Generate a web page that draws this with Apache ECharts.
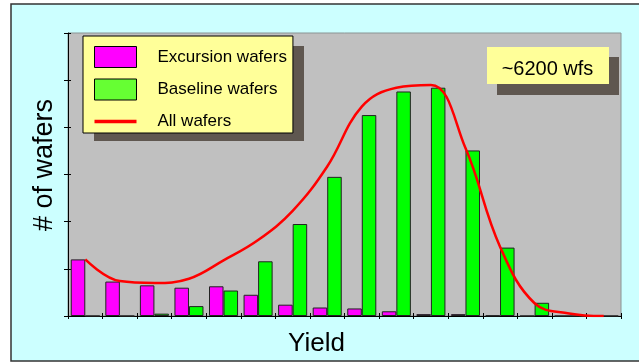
<!DOCTYPE html>
<html>
<head>
<meta charset="utf-8">
<script src="https://cdn.jsdelivr.net/npm/echarts@6/dist/echarts.min.js"></script>
<style>
  html, body { margin: 0; padding: 0; background: #ffffff; }
  #chart { width: 639px; height: 363px; }
</style>
</head>
<body>
<div id="chart"></div>
<script>
// Yield bins (16 equal bins, low yield on the left)
const yieldBins = ['1', '2', '3', '4', '5', '6', '7', '8', '9', '10', '11', '12', '13', '14', '15', '16'];

// Wafer counts per yield bin
const excursionWafers = [240, 146, 130, 120, 126, 90, 48, 36, 32, 20, 8, 8, 2, 0, 0, 0];
const baselineWafers  = [0, 0, 10, 42, 108, 232, 390, 590, 852, 952, 968, 702, 290, 56, 0, 0];
const allWafers       = [240, 148, 140, 158, 236, 322, 446, 634, 888, 968, 980, 712, 294, 54, 11, 0];

// Count axis (ticks only, no labels)
const countMin = 0;
const countMax = 1200;
const countStep = 200;

const totalNote = '~6200 wfs';

const FONT = 'Liberation Sans, Arial, sans-serif';

// Thin horizontal stroke inside a 42x21 box, used as the line's legend key
const lineKey = 'path://M0,0 M42,21 M0,8.8 L42,8.8 L42,12.2 L0,12.2 Z';

const chart = echarts.init(document.getElementById('chart'));

const option = {
  animation: false,
  grid: {
    left: 68, right: 18, top: 33, bottom: 47,
    show: true,
    backgroundColor: '#c0c0c0',
    borderColor: '#8a9494',
    borderWidth: 1
  },
  legend: {
    orient: 'vertical',
    left: 83, top: 36,
    padding: [10, 6, 1, 11],
    itemWidth: 42, itemHeight: 21, itemGap: 10.5,
    backgroundColor: '#ffff99',
    borderColor: '#000000',
    borderWidth: 1,
    textStyle: { fontFamily: FONT, fontSize: 17, color: '#000000', padding: [0, 0, 0, 16] },
    data: [
      { name: 'Excursion wafers', icon: 'rect', itemStyle: { color: '#ff00ff', borderColor: '#000', borderWidth: 1 } },
      { name: 'Baseline wafers', icon: 'rect', itemStyle: { color: '#66ff33', borderColor: '#000', borderWidth: 1 } },
      { name: 'All wafers', icon: lineKey, itemStyle: { color: '#ff0000', borderWidth: 0 } }
    ]
  },
  xAxis: [
    {
      type: 'category',
      data: yieldBins,
      boundaryGap: true,
      axisLine: { show: true, lineStyle: { color: '#000', width: 1 } },
      axisTick: { show: true, inside: false, length: 3, lineStyle: { color: '#000' } },
      axisLabel: { show: false },
      splitLine: { show: false },
      name: 'Yield',
      nameLocation: 'middle',
      nameGap: 15,
      nameTextStyle: { fontFamily: FONT, fontSize: 26, color: '#000', padding: [0, 56, 0, 0] }
    },
    {
      type: 'category',
      data: yieldBins,
      position: 'bottom',
      boundaryGap: true,
      axisLine: { show: false },
      axisTick: { show: true, inside: true, length: 3, lineStyle: { color: '#000' } },
      axisLabel: { show: false },
      splitLine: { show: false }
    }
  ],
  yAxis: [
    {
      type: 'value',
      min: countMin, max: countMax, interval: countStep,
      axisLine: { show: true, lineStyle: { color: '#000', width: 1 } },
      axisTick: { show: true, inside: false, length: 4, lineStyle: { color: '#000' } },
      axisLabel: { show: false },
      splitLine: { show: false },
      name: '# of wafers',
      nameLocation: 'middle',
      nameGap: 10,
      nameRotate: 90,
      nameTextStyle: { fontFamily: FONT, fontSize: 27, color: '#000', padding: [0, 0, 0, 19] }
    },
    {
      type: 'value',
      position: 'left',
      min: countMin, max: countMax, interval: countStep,
      axisLine: { show: false },
      axisTick: { show: true, inside: true, length: 3, lineStyle: { color: '#000' } },
      axisLabel: { show: false },
      splitLine: { show: false }
    }
  ],
  series: [
    {
      name: 'Excursion wafers',
      type: 'bar',
      data: excursionWafers,
      barGap: '0%',
      barCategoryGap: '16%',
      itemStyle: { color: '#ff00ff', borderColor: '#222', borderWidth: 1 },
      z: 2
    },
    {
      name: 'Baseline wafers',
      type: 'bar',
      data: baselineWafers,
      barGap: '0%',
      barCategoryGap: '16%',
      itemStyle: { color: '#00ff00', borderColor: '#222', borderWidth: 1 },
      z: 2
    },
    {
      name: 'All wafers',
      type: 'line',
      data: allWafers,
      smooth: 0.4,
      symbol: 'none',
      lineStyle: { color: '#ff0000', width: 2.5 },
      itemStyle: { color: '#ff0000' },
      z: 3
    }
  ],
  graphic: [
    // page panel behind the chart
    {
      type: 'rect', z: -10, silent: true,
      shape: { x: 11, y: 4, width: 660, height: 357 },
      style: { fill: '#ccffff', stroke: '#333333', lineWidth: 1.5 }
    },
    // drop shadow of the legend box
    {
      type: 'rect', z: 3, silent: true,
      shape: { x: 94, y: 46, width: 210, height: 95 },
      style: { fill: '#5f5750' }
    },
    // total count note with drop shadow
    {
      type: 'rect', z: 3, silent: true,
      shape: { x: 497, y: 57, width: 122, height: 38 },
      style: { fill: '#5f5750' }
    },
    {
      type: 'rect', z: 4, silent: true,
      shape: { x: 487, y: 47, width: 122, height: 37 },
      style: { fill: '#ffff99' }
    },
    {
      type: 'text', z: 5, silent: true,
      style: {
        x: 547.5, y: 69, text: totalNote,
        fontFamily: FONT, fontSize: 20, fill: '#000',
        align: 'center', verticalAlign: 'middle'
      }
    }
  ]
};

chart.setOption(option);
</script>
</body>
</html>
